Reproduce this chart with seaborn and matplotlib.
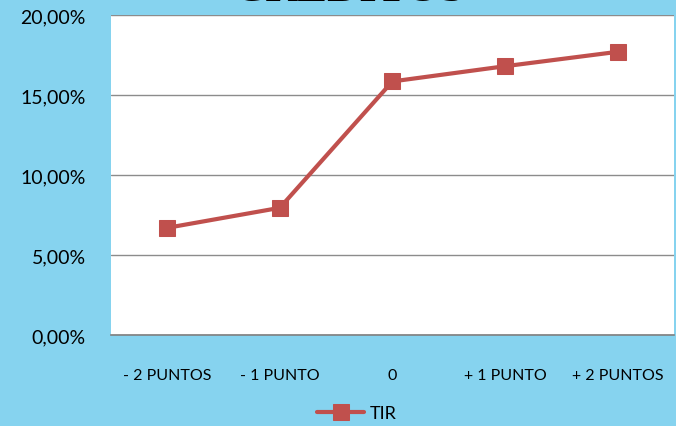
import seaborn as sns
import matplotlib.pyplot as plt
import pandas as pd
import numpy as np
from matplotlib.ticker import FuncFormatter

# data
escenarios = ['- 2 PUNTOS', '- 1 PUNTO', '0', '+ 1 PUNTO', '+ 2 PUNTOS']
tir = [0.0670, 0.0795, 0.1585, 0.1680, 0.1770]

df = pd.DataFrame({'escenario': escenarios, 'TIR': tir})
df['pos'] = np.arange(len(escenarios))

sns.set_style('white')
plt.rcParams['font.family'] = ['Lato', 'DejaVu Sans']
plt.rcParams['text.color'] = 'black'
plt.rcParams['xtick.color'] = 'black'
plt.rcParams['ytick.color'] = 'black'

bg = '#86D3EF'
red = '#C0504D'

fig = plt.figure(figsize=(6.76, 4.27), dpi=100, facecolor=bg)
ax = fig.add_axes([0.164, 0.213, 0.833, 0.7495])
ax.set_facecolor('white')

sns.lineplot(data=df, x='pos', y='TIR', ax=ax, color=red, linewidth=3,
             marker='s', markersize=12, markeredgecolor=red, label='TIR')

ax.set_xlim(-0.5, len(escenarios) - 0.5)
ax.set_ylim(0, 0.20)
ax.set_yticks(np.arange(0, 0.201, 0.05))
ax.yaxis.set_major_formatter(FuncFormatter(lambda v, p: f'{v*100:.2f}%'.replace('.', ',')))
ax.set_xticks(df['pos'])
ax.set_xticklabels(escenarios, fontsize=11.5)
ax.tick_params(axis='y', labelsize=14, length=0, pad=18)
ax.tick_params(axis='x', length=0, pad=24)
ax.set_xlabel('')
ax.set_ylabel('')

ax.grid(axis='y', color='#8C8C8C', linewidth=1)
ax.set_axisbelow(True)
for s in ['left', 'right', 'top']:
    ax.spines[s].set_visible(False)
ax.spines['bottom'].set_color('#7F7F7F')
ax.spines['bottom'].set_linewidth(1.2)

leg = ax.legend(loc='upper center', bbox_to_anchor=(0.437, -0.168), frameon=False,
                fontsize=13, handlelength=2.6, handletextpad=0.3)

# title mostly out of the picture, as in the reference
fig.text(0.518, 1.023, 'CRÉDITOS', ha='center', va='center', fontsize=32,
         fontweight='bold', family='Liberation Serif', color='black')

fig.savefig('out.png', dpi=100, facecolor=bg)
